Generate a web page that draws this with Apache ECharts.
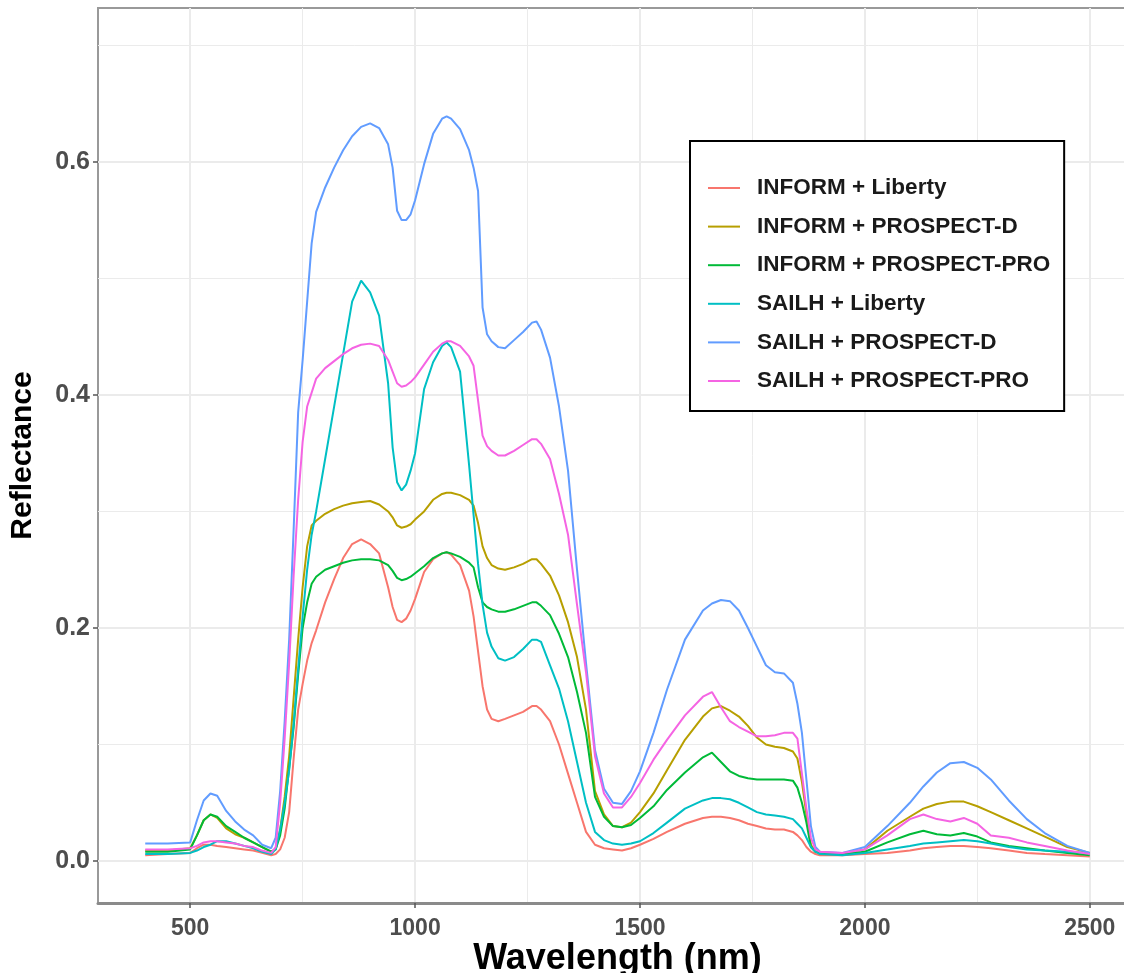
<!DOCTYPE html>
<html>
<head>
<meta charset="utf-8">
<script src="https://cdn.jsdelivr.net/npm/echarts@6/dist/echarts.min.js"></script>
<style>
html,body{margin:0;padding:0;background:#fff;}
#chart{width:1124px;height:973px;}
</style>
</head>
<body>
<div id="chart"></div>
<script>
const wavelength = [400,450,500,515,530,545,560,580,600,620,640,660,680,690,700,710,720,730,740,750,760,770,780,800,820,840,860,880,900,920,940,950,960,970,980,990,1000,1020,1040,1060,1070,1080,1100,1120,1130,1140,1150,1160,1170,1185,1200,1220,1240,1260,1270,1280,1300,1320,1340,1360,1380,1400,1420,1440,1460,1480,1500,1530,1560,1600,1640,1660,1680,1700,1720,1740,1760,1780,1800,1820,1840,1850,1860,1870,1880,1890,1900,1950,2000,2050,2100,2130,2160,2190,2220,2250,2280,2320,2360,2400,2450,2500];

const informLiberty = [.005,.006,.007,.011,.014,.014,.013,.012,.011,.010,.009,.007,.005,.006,.010,.020,.042,.088,.130,.152,.172,.187,.198,.222,.242,.260,.272,.276,.272,.264,.235,.218,.207,.205,.208,.215,.225,.248,.259,.264,.265,.263,.254,.232,.210,.180,.150,.130,.122,.120,.122,.125,.128,.133,.133,.130,.120,.100,.075,.050,.025,.014,.011,.010,.009,.011,.014,.019,.025,.032,.037,.038,.038,.037,.035,.032,.030,.028,.027,.027,.025,.022,.018,.012,.008,.006,.005,.005,.006,.007,.009,.011,.012,.013,.013,.012,.011,.009,.007,.006,.005,.004];

const informProspectD = [.009,.009,.011,.022,.035,.040,.037,.028,.023,.020,.016,.012,.008,.010,.027,.055,.090,.140,.190,.235,.270,.288,.292,.298,.302,.305,.307,.308,.309,.306,.300,.295,.288,.286,.287,.289,.293,.300,.310,.315,.316,.316,.314,.310,.305,.290,.270,.260,.254,.251,.250,.252,.255,.259,.259,.255,.245,.228,.205,.175,.130,.060,.040,.030,.029,.033,.042,.058,.078,.104,.124,.131,.133,.129,.124,.116,.106,.100,.098,.097,.094,.088,.068,.040,.014,.008,.007,.006,.010,.026,.038,.045,.049,.051,.051,.047,.042,.035,.028,.021,.012,.007];

const informProspectPro = [.008,.008,.010,.022,.035,.040,.038,.030,.025,.020,.016,.012,.008,.010,.022,.045,.080,.115,.160,.200,.222,.238,.244,.250,.253,.256,.258,.259,.259,.258,.254,.249,.243,.241,.242,.244,.247,.253,.260,.264,.265,.264,.261,.256,.252,.235,.222,.218,.216,.214,.214,.216,.219,.222,.222,.219,.211,.195,.175,.145,.110,.055,.038,.030,.029,.031,.037,.047,.061,.076,.089,.093,.085,.077,.073,.071,.070,.070,.070,.070,.069,.063,.050,.033,.012,.008,.007,.006,.008,.016,.023,.026,.023,.022,.024,.021,.016,.013,.011,.009,.007,.005];

const sailhLiberty = [.006,.006,.007,.009,.012,.014,.017,.017,.015,.013,.011,.008,.006,.010,.027,.050,.078,.118,.165,.210,.250,.280,.300,.345,.390,.435,.480,.498,.488,.468,.410,.355,.325,.318,.323,.335,.350,.405,.428,.442,.445,.441,.420,.340,.297,.255,.220,.196,.184,.174,.172,.175,.182,.190,.190,.188,.168,.148,.120,.085,.050,.025,.018,.015,.014,.015,.017,.024,.033,.045,.052,.054,.054,.053,.050,.046,.042,.040,.039,.038,.036,.032,.028,.020,.012,.008,.006,.005,.007,.010,.013,.015,.016,.017,.018,.017,.015,.012,.010,.009,.008,.007];

const sailhProspectD = [.015,.015,.016,.035,.052,.058,.056,.043,.034,.027,.022,.014,.011,.020,.060,.120,.190,.285,.385,.430,.480,.530,.557,.578,.595,.610,.622,.630,.633,.629,.615,.595,.558,.550,.550,.555,.567,.598,.624,.637,.639,.637,.628,.610,.595,.575,.475,.452,.446,.441,.440,.447,.454,.462,.463,.456,.432,.390,.335,.250,.170,.095,.062,.050,.049,.060,.077,.110,.147,.190,.215,.221,.224,.223,.215,.200,.184,.168,.162,.161,.153,.135,.110,.070,.030,.012,.008,.007,.012,.030,.050,.064,.076,.084,.085,.080,.070,.052,.036,.024,.013,.007];

const sailhProspectPro = [.010,.010,.011,.013,.016,.017,.017,.016,.015,.013,.012,.009,.007,.012,.050,.105,.170,.245,.310,.360,.390,.402,.414,.423,.429,.435,.440,.443,.444,.442,.430,.420,.410,.407,.408,.411,.415,.426,.437,.444,.446,.446,.442,.433,.425,.395,.365,.356,.352,.348,.348,.352,.357,.362,.362,.358,.345,.315,.280,.220,.162,.090,.058,.046,.046,.055,.067,.087,.104,.125,.141,.145,.132,.120,.115,.111,.107,.107,.108,.110,.110,.105,.075,.045,.020,.010,.008,.007,.010,.022,.036,.040,.036,.034,.037,.032,.022,.020,.016,.013,.009,.006];

const seriesNames = ['INFORM + Liberty','INFORM + PROSPECT-D','INFORM + PROSPECT-PRO','SAILH + Liberty','SAILH + PROSPECT-D','SAILH + PROSPECT-PRO'];
const seriesValues = [informLiberty, informProspectD, informProspectPro, sailhLiberty, sailhProspectD, sailhProspectPro];
const seriesColors = ['#F8766D','#B79F00','#00BA38','#00BFC4','#619CFF','#F564E3'];

const xMajorTicks = [500,1000,1500,2000,2500];
const xMinorTicks = [750,1250,1750,2250];
const yMajorTicks = [0,0.2,0.4,0.6];
const yMinorTicks = [0.1,0.3,0.5,0.7];

const xMin = 295, xMax = 2605;
const yMin = -0.036, yMax = 0.732;

const chart = echarts.init(document.getElementById('chart'), null, {renderer:'canvas'});

const series = seriesNames.map((name, i) => ({
  name: name,
  type: 'line',
  xAxisIndex: 0,
  yAxisIndex: 0,
  data: wavelength.map((w, j) => [w, seriesValues[i][j]]),
  symbol: 'none',
  showSymbol: false,
  lineStyle: {width: 2, color: seriesColors[i]},
  itemStyle: {color: seriesColors[i]},
  animation: false,
  z: 3
}));

const labelFont = {fontFamily: 'Liberation Sans, Arial, sans-serif', fontWeight: 'bold'};

chart.setOption({
  animation: false,
  backgroundColor: '#ffffff',
  grid: {
    left: 98, top: 8, width: 1039, height: 895,
    outerBoundsMode: 'none',
    containLabel: false,
    show: true, borderColor: '#999999', borderWidth: 2, backgroundColor: '#ffffff'
  },
  legend: {
    orient: 'vertical',
    left: 690, top: 141,
    data: seriesNames,
    backgroundColor: '#ffffff',
    borderColor: '#000000',
    borderWidth: 2,
    padding: [35, 14, 18, 18],
    itemWidth: 32,
    itemHeight: 24,
    itemGap: 14.6,
    icon: 'path://M0,11 L32,11 L32,13 L0,13 Z',
    textStyle: Object.assign({fontSize: 22.5, color: '#1a1a1a', padding: [0,0,0,12], lineHeight: 24}, labelFont)
  },
  xAxis: [
    {
      type: 'value', min: xMin, max: xMax, position: 'top',
      axisLine: {show: false, onZero: false}, axisLabel: {show: false},
      axisTick: {show: false, customValues: xMinorTicks},
      splitLine: {show: true, lineStyle: {color: '#EBEBEB', width: 1}}
    },
    {
      type: 'value', min: xMin, max: xMax, position: 'bottom',
      axisLine: {show: true, onZero: false, lineStyle: {color: '#8a8a8a', width: 3}},
      axisTick: {show: true, length: 5, lineStyle: {color: '#555555', width: 1.5}, customValues: xMajorTicks},
      axisLabel: Object.assign({show: true, fontSize: 23, color: '#4D4D4D', margin: 14, customValues: xMajorTicks, formatter: v => String(v)}, labelFont),
      splitLine: {show: true, lineStyle: {color: '#EBEBEB', width: 2}},
      name: 'Wavelength (nm)', nameLocation: 'middle', nameGap: 38, nameMoveOverlap: false,
      nameTextStyle: Object.assign({fontSize: 36, color: '#000000'}, labelFont)
    }
  ],
  yAxis: [
    {
      type: 'value', min: yMin, max: yMax, position: 'right',
      axisLine: {show: false, onZero: false}, axisLabel: {show: false},
      axisTick: {show: false, customValues: yMinorTicks},
      splitLine: {show: true, lineStyle: {color: '#EBEBEB', width: 1}}
    },
    {
      type: 'value', min: yMin, max: yMax, position: 'left',
      axisLine: {show: false, onZero: false},
      axisTick: {show: true, length: 5, lineStyle: {color: '#555555', width: 1.5}, customValues: yMajorTicks},
      axisLabel: Object.assign({show: true, fontSize: 25, color: '#4D4D4D', margin: 8, customValues: yMajorTicks, formatter: v => v.toFixed(1)}, labelFont),
      splitLine: {show: true, lineStyle: {color: '#EBEBEB', width: 2}},
      name: 'Reflectance', nameLocation: 'middle', nameGap: 60, nameRotate: 90, nameMoveOverlap: false,
      nameTextStyle: Object.assign({fontSize: 30, color: '#000000'}, labelFont)
    }
  ],
  series: series
});
</script>
</body>
</html>
